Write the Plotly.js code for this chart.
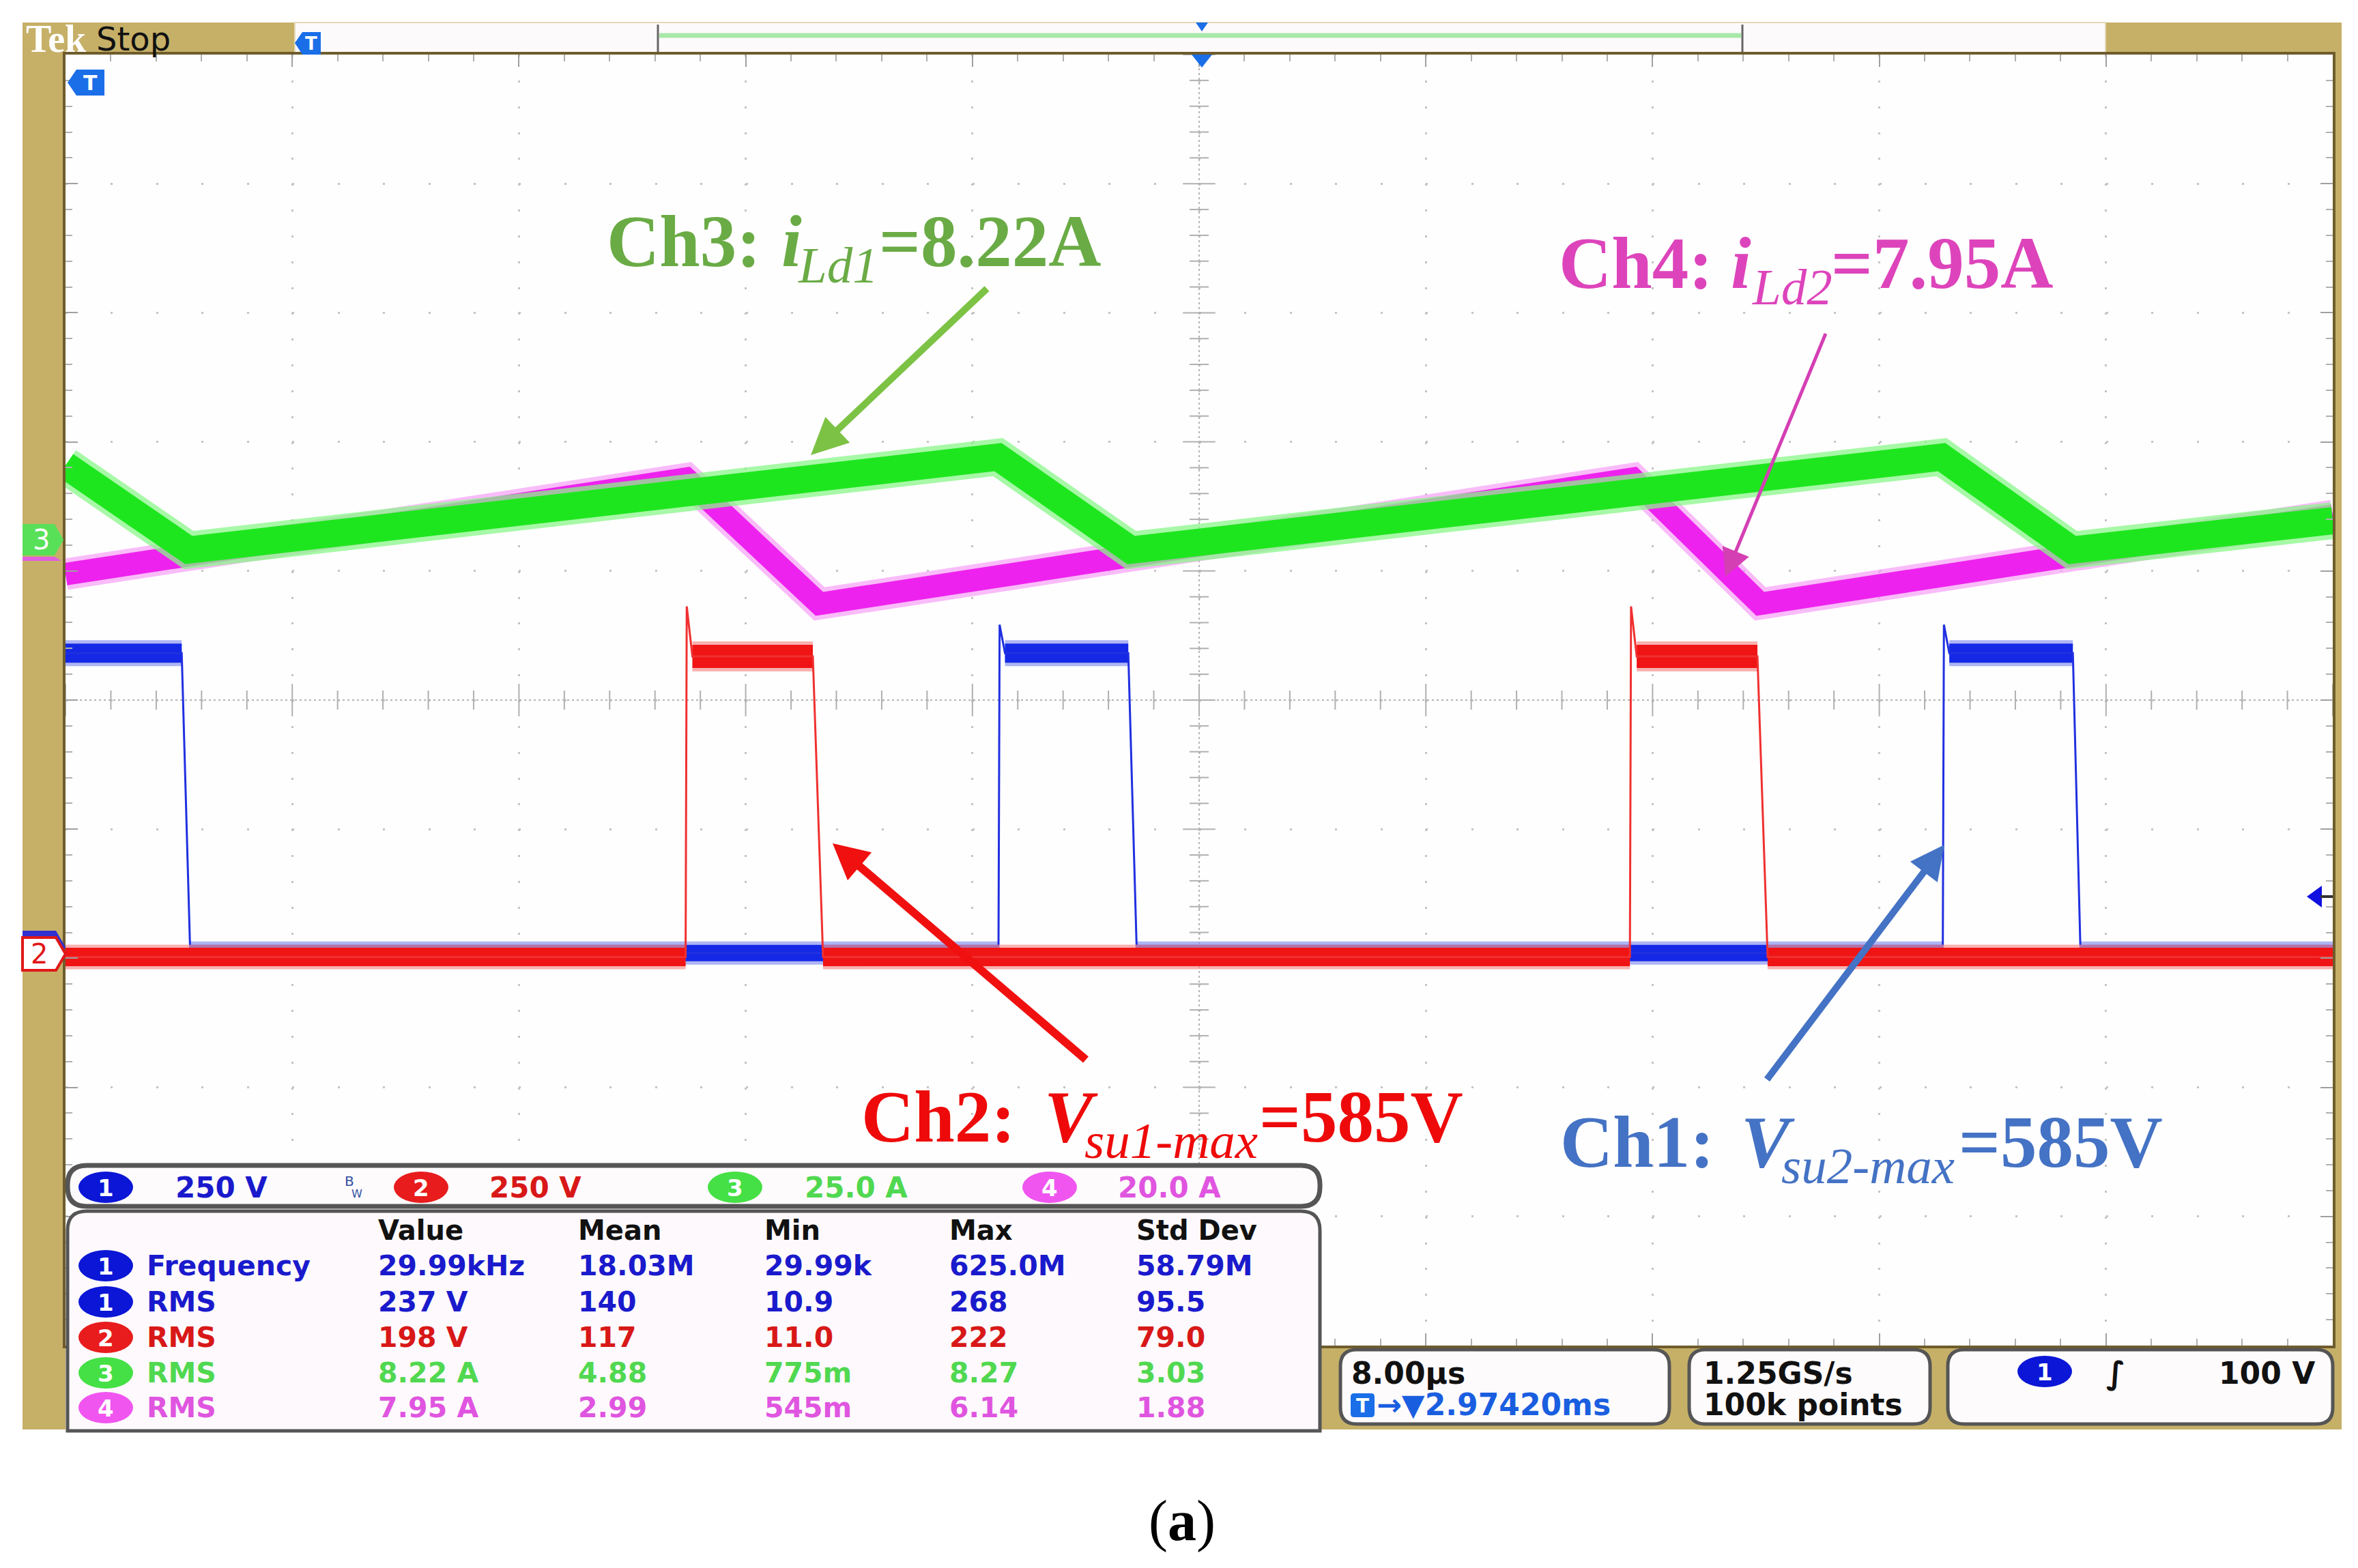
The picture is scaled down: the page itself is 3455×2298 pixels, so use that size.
<!DOCTYPE html>
<html><head><meta charset="utf-8">
<script src="https://cdn.plot.ly/plotly-3.0.1.min.js"></script>
<style>html,body{margin:0;padding:0;background:#fff;overflow:hidden}#chart{width:3455px;height:2298px}</style>
</head><body><div id="chart"></div>
<script>
// ---------------- DATA ----------------
// time axis in µs (8 µs/div, 10 div)
const ch1_t = [-40, -35.9, -35.6, -7.08, -7.04, -6.85, -2.5, -2.2, 26.24, 26.28, 26.47, 30.83, 31.1, 40];
const ch1_v = [581, 581, 0, 0, 636, 581, 581, 0, 0, 636, 581, 581, 0, 0];          // V
const ch2_t = [-40, -18.12, -18.08, -17.88, -13.63, -13.27, 15.2, 15.24, 15.44, 19.7, 20.06, 40];
const ch2_v = [0, 0, 679, 582, 582, 0, 0, 679, 582, 582, 0, 0];                     // V
const ch3_t = [-40, -35.65, -7.1, -2.4, 26.2, 30.8, 40];
const ch3_i = [14.2, -2.2, 15.8, -2.2, 15.8, -2.2, 3.5];                            // A
const ch4_t = [-40, -18.1, -13.4, 15.3, 19.8, 40];
const ch4_i = [2.5, 17.3, -2.1, 17.3, -2.1, 11.6];                                  // A

const ch_scale = [250, 250, 25, 20];           // units per division
const ch_scale_label = ['250 V', '250 V', '25.0 A', '20.0 A'];
const ch_pos = [-1.96, -1.99, 1.25, 0.85];     // ground position in divisions

const meas_ch    = [1, 1, 2, 3, 4];
const meas_name  = ['Frequency', 'RMS', 'RMS', 'RMS', 'RMS'];
const meas_head  = ['Value', 'Mean', 'Min', 'Max', 'Std Dev'];
const meas_value = ['29.99kHz', '237 V', '198 V', '8.22 A', '7.95 A'];
const meas_mean  = ['18.03M', '140', '117', '4.88', '2.99'];
const meas_min   = ['29.99k', '10.9', '11.0', '775m', '545m'];
const meas_max   = ['625.0M', '268', '222', '8.27', '6.14'];
const meas_std   = ['58.79M', '95.5', '79.0', '3.03', '1.88'];

const timebase = '8.00µs', trig_pos = '2.97420ms', sample_rate = '1.25GS/s',
      rec_len = '100k points', trig_level = '100 V';

// waveform labels: [channel label, symbol, subscript, value]
const lab_head = ['Ch3:', 'Ch4:', 'Ch2:', 'Ch1:'];
const lab_sym  = ['i', 'i', 'V', 'V'];
const lab_sub  = ['Ld1', 'Ld2', 'su1-max', 'su2-max'];
const lab_val  = ['=8.22A', '=7.95A', '=585V', '=585V'];

// ---------------- helpers ----------------
const W = 3455, H = 2298;
const px = X => X / W, py = Y => 1 - Y / H;
const GOLD = '#c6b068';
const toDiv = (vals, c) => vals.map(v => v / ch_scale[c] + ch_pos[c]);
function segs(t, y, keep) {
  const xs = [], ys = [];
  for (let i = 0; i < t.length - 1; i++) {
    if (y[i] === y[i + 1] && keep(y[i])) { xs.push(t[i], t[i + 1], null); ys.push(y[i], y[i + 1], null); }
  }
  return { xs, ys };
}
function rr(x0, y0, x1, y1, r, bottomRound = true) {
  const P = (x, y) => px(x) + ',' + py(y);
  let s = 'M' + P(x0 + r, y0) + ' L' + P(x1 - r, y0) + ' Q' + P(x1, y0) + ' ' + P(x1, y0 + r);
  if (bottomRound) {
    s += ' L' + P(x1, y1 - r) + ' Q' + P(x1, y1) + ' ' + P(x1 - r, y1) + ' L' + P(x0 + r, y1) + ' Q' + P(x0, y1) + ' ' + P(x0, y1 - r);
  } else {
    s += ' L' + P(x1, y1) + ' L' + P(x0, y1);
  }
  s += ' L' + P(x0, y0 + r) + ' Q' + P(x0, y0) + ' ' + P(x0 + r, y0) + ' Z';
  return s;
}
const poly = pts => 'M' + pts.map(p => px(p[0]) + ',' + py(p[1])).join(' L') + ' Z';
const shapes = [], ann = [];
function rect(x0, y0, x1, y1, fill, layer = 'below', line = { width: 0 }) {
  shapes.push({ type: 'rect', xref: 'paper', yref: 'paper', x0: px(x0), x1: px(x1), y0: py(y1), y1: py(y0), fillcolor: fill, line, layer });
}
function path(p, fill, layer = 'above', line = { width: 0 }) {
  shapes.push({ type: 'path', xref: 'paper', yref: 'paper', path: p, fillcolor: fill, line, layer });
}
function seg(x0, y0, x1, y1, color, width, layer = 'above') {
  shapes.push({ type: 'line', xref: 'paper', yref: 'paper', x0: px(x0), x1: px(x1), y0: py(y0), y1: py(y1), line: { color, width }, layer });
}
function ell(cx, cy, w, h, fill) {
  shapes.push({ type: 'circle', xref: 'paper', yref: 'paper', x0: px(cx - w / 2), x1: px(cx + w / 2), y0: py(cy + h / 2), y1: py(cy - h / 2), fillcolor: fill, line: { width: 0 }, layer: 'above' });
}
function txt(X, Y, text, size, color, anchor = 'left', family = 'DejaVu Sans, sans-serif', weight = 'normal', style = 'normal') {
  ann.push({ xref: 'paper', yref: 'paper', x: px(X), y: py(Y), xanchor: anchor, yanchor: 'middle', text, showarrow: false, borderpad: 0, font: { family, size, color, weight, style } });
}
function arrow(tail, tip, color, width, L, hw) {
  const dx = tip[0] - tail[0], dy = tip[1] - tail[1], d = Math.hypot(dx, dy);
  const ux = dx / d, uy = dy / d, bx = tip[0] - ux * L, by = tip[1] - uy * L;
  seg(tail[0], tail[1], bx + ux * 4, by + uy * 4, color, width);
  path(poly([tip, [bx - uy * hw, by + ux * hw], [bx + uy * hw, by - ux * hw]]), color);
}

// ---------------- frame ----------------
rect(33, 33, 96, 2095, GOLD);
rect(33, 33, 432, 79, GOLD);
rect(3085, 33, 3431, 79, GOLD);
rect(3418, 79, 3431, 2095, GOLD);
rect(1934, 1972, 3431, 2095, GOLD);
rect(432, 33, 3085, 77, '#fdfafc', 'below', { width: 2, color: '#e2d9b8' });
seg(966, 52, 2551, 52, '#a8e8a8', 7, 'below');
seg(964, 36, 964, 77, '#666', 3, 'below');
seg(2553, 36, 2553, 77, '#666', 3, 'below');
path(poly([[1752, 33], [1770, 33], [1761, 46]]), '#1a6ee8');
// T markers
path(poly([[432, 63], [443, 47], [470, 47], [470, 80], [443, 80]]), '#1a6ee8');
txt(456, 64, 'T', 26, '#fff', 'center', 'DejaVu Sans, sans-serif', 'bold');
path(poly([[99, 121], [112, 102], [153, 102], [153, 140], [112, 140]]), '#1a6ee8');
txt(132, 121, 'T', 30, '#fff', 'center', 'DejaVu Sans, sans-serif', 'bold');
path(poly([[1746, 80], [1776, 80], [1761, 99]]), '#1a6ee8');
// channel ground markers
path(poly([[33, 816], [80, 816], [90, 822], [33, 822]]), '#e060e0');
path(poly([[33, 768], [80, 768], [93, 791], [80, 814], [33, 814]]), '#58e058');
txt(60, 791, '3', 40, '#ffffff', 'center');
path(poly([[33, 1364], [82, 1364], [96, 1388], [82, 1412], [33, 1412]]), '#3030d0');
path(poly([[33, 1374], [82, 1374], [96, 1398], [82, 1422], [33, 1422]]), '#ffffff', 'above', { color: '#e01818', width: 4 });
txt(58, 1398, '2', 40, '#e01818', 'center');
// trigger level
path(poly([[3380, 1314], [3402, 1298], [3402, 1330]]), '#1010e0');
seg(3400, 1314, 3418, 1314, '#333', 4);
txt(37, 57, 'Tek', 56, '#ffffff', 'left', 'Liberation Serif, serif', 'bold');
txt(140, 57, 'Stop', 48, '#111', 'left');

// ---------------- channel bar ----------------
const TF = 'DejaVu Sans, sans-serif';
path(rr(99, 1708, 1934, 1768, 28), '#fefbfd', 'above', { color: '#555', width: 7 });
const chColT = ['#1a1acc', '#d81818', '#50d850', '#e055e0'];
const chColC = ['#0b16d6', '#e81c1c', '#45e045', '#f055f0'];
const barCx = [155, 617, 1077, 1538], barTx = [256, 716, 1178, 1637];
for (let c = 0; c < 4; c++) {
  ell(barCx[c], 1740, 80, 46, chColC[c]);
  txt(barCx[c], 1741, String(c + 1), 34, '#fff', 'center', TF, 'bold');
  txt(barTx[c], 1740, ch_scale_label[c], 42, chColT[c], 'left', TF, 'bold');
}
txt(512, 1731, 'B', 20, '#3050a0', 'center', TF);
txt(523, 1749, 'W', 16, '#3050a0', 'center', TF);

// ---------------- measurement table ----------------
path(rr(99, 1775, 1934, 2097, 28, false), '#fdf9fc', 'above', { color: '#555', width: 5 });
const colX = [553, 846, 1119, 1390, 1664];
const rowY = [1855, 1908, 1960, 2012, 2063];
meas_head.forEach((h, j) => txt(colX[j], 1803, h, 40, '#111', 'left', TF, 'bold'));
const cols = [meas_value, meas_mean, meas_min, meas_max, meas_std];
meas_ch.forEach((c, i) => {
  ell(155, rowY[i], 80, 46, chColC[c - 1]);
  txt(155, rowY[i] + 1, String(c), 34, '#fff', 'center', TF, 'bold');
  txt(214, rowY[i], meas_name[i], 41, chColT[c - 1], 'left', TF, 'bold');
  cols.forEach((col, j) => txt(colX[j], rowY[i], col[i], 41, chColT[c - 1], 'left', TF, 'bold'));
});

// ---------------- readouts ----------------
path(rr(1964, 1978, 2446, 2087, 24), '#fefbfd', 'above', { color: '#555', width: 5 });
path(rr(2475, 1978, 2828, 2087, 24), '#fefbfd', 'above', { color: '#555', width: 5 });
path(rr(2854, 1978, 3418, 2087, 24), '#fefbfd', 'above', { color: '#555', width: 5 });
txt(1979, 2012, timebase, 44, '#111', 'left', TF, 'bold');
path(rr(1979, 2042, 2014, 2077, 5), '#1a6ee8');
txt(1996, 2060, 'T', 28, '#fff', 'center', TF, 'bold');
txt(2016, 2058, '→▼' + trig_pos, 44, '#1a5ee0', 'left', TF, 'bold');
txt(2495, 2012, sample_rate, 44, '#111', 'left', TF, 'bold');
txt(2495, 2058, rec_len, 44, '#111', 'left', TF, 'bold');
ell(2996, 2010, 80, 46, '#0b16d6');
txt(2996, 2011, '1', 34, '#fff', 'center', TF, 'bold');
txt(3100, 2012, '∫', 46, '#111', 'center', TF, 'bold');
txt(3393, 2012, trig_level, 44, '#111', 'right', TF, 'bold');

// ---------------- waveform labels ----------------
const LF = 'Liberation Serif, Times New Roman, serif';
const MS = 107, SS = 75;
// piece left edges: [head, symbol, subscript, value]
const labPieceX = [[888, 1144, 1168, 1287], [2283, 2535, 2566, 2682], [1261, 1529, 1588, 1844], [2285, 2550, 2609, 2869]];
const labBase = [390, 422, 1673, 1710];
const labCol = ['#6aab45', '#dd44bb', '#ee0a0a', '#4472c4'];
for (let k = 0; k < 4; k++) {
  const b = labBase[k], midM = b - 0.3375 * MS, midS = b + 24 - 0.3375 * SS, X = labPieceX[k];
  txt(X[0], midM, lab_head[k], MS, labCol[k], 'left', LF, 'bold');
  txt(X[1], midM, lab_sym[k], MS, labCol[k], 'left', LF, 'bold', 'italic');
  txt(X[2], midS, lab_sub[k], SS, labCol[k], 'left', LF, 'normal', 'italic');
  txt(X[3], midM, lab_val[k], MS, labCol[k], 'left', LF, 'bold');
}
arrow([1446, 423], [1188, 667], '#7cc244', 10, 54, 26);
arrow([2675, 489], [2528, 845], '#d43fb4', 5, 40, 21);
arrow([1591, 1553], [1220, 1236], '#f01010', 12, 52, 27);
arrow([2589, 1582], [2849, 1238], '#4472c4', 10, 50, 25);
txt(1732, 2229, '(<b>a</b>)', 84, '#000', 'center', LF);

// ---------------- traces ----------------
const traces = [];
const tk = [], tkMaj = [], tkY = [], tkYMaj = [];
for (let k = -25; k <= 25; k++) { (k % 5 === 0 ? tkMaj : tk).push(k * 1.6); (k % 5 === 0 ? tkYMaj : tkY).push(k * 0.2); }
const dec = { hoverinfo: 'skip' };
traces.push({ x: [-40, 40], y: [0, 0], mode: 'lines', line: { color: '#b4b4b4', width: 2, dash: '3px,4px' }, ...dec });
traces.push({ x: [0, 0], y: [-5, 5], mode: 'lines', line: { color: '#b4b4b4', width: 2, dash: '3px,4px' }, ...dec });
traces.push({ x: tk, y: tk.map(() => 0), mode: 'markers', marker: { symbol: 'line-ns', size: 20, line: { width: 2, color: '#b0b0b0' } }, ...dec });
traces.push({ x: tkMaj, y: tkMaj.map(() => 0), mode: 'markers', marker: { symbol: 'line-ns', size: 34, line: { width: 2, color: '#b0b0b0' } }, ...dec });
traces.push({ x: tkY.map(() => 0), y: tkY, mode: 'markers', marker: { symbol: 'line-ew', size: 20, line: { width: 2, color: '#b0b0b0' } }, ...dec });
traces.push({ x: tkYMaj.map(() => 0), y: tkYMaj, mode: 'markers', marker: { symbol: 'line-ew', size: 34, line: { width: 2, color: '#b0b0b0' } }, ...dec });

const y4 = toDiv(ch4_i, 3), y3 = toDiv(ch3_i, 2);
traces.push({ x: ch4_t, y: y4, mode: 'lines', line: { color: '#f7a0f7', width: 46 }, opacity: 0.7, ...dec });
traces.push({ x: ch4_t, y: y4, mode: 'lines', line: { color: '#ee22ee', width: 33 }, ...dec });
traces.push({ x: ch3_t, y: y3, mode: 'lines', line: { color: '#8af58a', width: 54 }, opacity: 0.75, ...dec });
traces.push({ x: ch3_t, y: y3, mode: 'lines', line: { color: '#1ee61e', width: 40 }, ...dec });

const y1 = toDiv(ch1_v, 0), y2 = toDiv(ch2_v, 1);
const g1 = ch_pos[0], g2 = ch_pos[1];
const h1 = segs(ch1_t, y1, v => v > g1 + 0.5), l1 = segs(ch1_t, y1, v => v <= g1 + 0.5);
const h2 = segs(ch2_t, y2, v => v > g2 + 0.5), l2 = segs(ch2_t, y2, v => v <= g2 + 0.5);
traces.push({ x: l1.xs, y: l1.ys, mode: 'lines', line: { color: '#8a96f0', width: 34 }, opacity: 0.7, ...dec });
traces.push({ x: l1.xs, y: l1.ys, mode: 'lines', line: { color: '#1428e6', width: 24 }, ...dec });
traces.push({ x: h1.xs, y: h1.ys, mode: 'lines', line: { color: '#8a96f0', width: 38 }, opacity: 0.7, ...dec });
traces.push({ x: h1.xs, y: h1.ys, mode: 'lines', line: { color: '#1428e6', width: 28 }, ...dec });
traces.push({ x: ch1_t, y: y1, mode: 'lines', line: { color: '#2030e0', width: 3 }, ...dec });
traces.push({ x: l2.xs, y: l2.ys, mode: 'lines', line: { color: '#f59090', width: 36 }, opacity: 0.7, ...dec });
traces.push({ x: l2.xs, y: l2.ys, mode: 'lines', line: { color: '#f01414', width: 27 }, ...dec });
traces.push({ x: h2.xs, y: h2.ys, mode: 'lines', line: { color: '#f59090', width: 44 }, opacity: 0.7, ...dec });
traces.push({ x: h2.xs, y: h2.ys, mode: 'lines', line: { color: '#f01414', width: 34 }, ...dec });
traces.push({ x: ch2_t, y: y2, mode: 'lines', line: { color: '#f03030', width: 3 }, ...dec });

const axCommon = {
  showticklabels: false, zeroline: false, showgrid: true, gridcolor: '#c4c4c4', gridwidth: 3,
  ticks: 'inside', ticklen: 18, tickcolor: '#a0a0a0', tickwidth: 2,
  showline: true, linecolor: '#6e5c2c', linewidth: 4, mirror: 'ticks', fixedrange: true
};
const layout = {
  width: W, height: H, autosize: false, showlegend: false,
  margin: { l: 0, r: 0, t: 0, b: 0, pad: 0 },
  paper_bgcolor: '#ffffff', plot_bgcolor: '#fefefe',
  xaxis: Object.assign({}, axCommon, {
    domain: [96 / W, 3418 / W], range: [-40, 40], dtick: 8, tick0: 0, griddash: '3px,34.84px',
    minor: { dtick: 1.6, ticks: 'inside', ticklen: 10, tickcolor: '#b0b0b0', tickwidth: 2, showgrid: false }
  }),
  yaxis: Object.assign({}, axCommon, {
    domain: [1 - 1972 / H, 1 - 80 / H], range: [-5, 5], dtick: 1, tick0: 0, griddash: '3px,63.44px',
    minor: { dtick: 0.2, ticks: 'inside', ticklen: 10, tickcolor: '#b0b0b0', tickwidth: 2, showgrid: false }
  }),
  shapes, annotations: ann
};
Plotly.newPlot('chart', traces, layout, { displayModeBar: false, staticPlot: true });
</script>
</body></html>
